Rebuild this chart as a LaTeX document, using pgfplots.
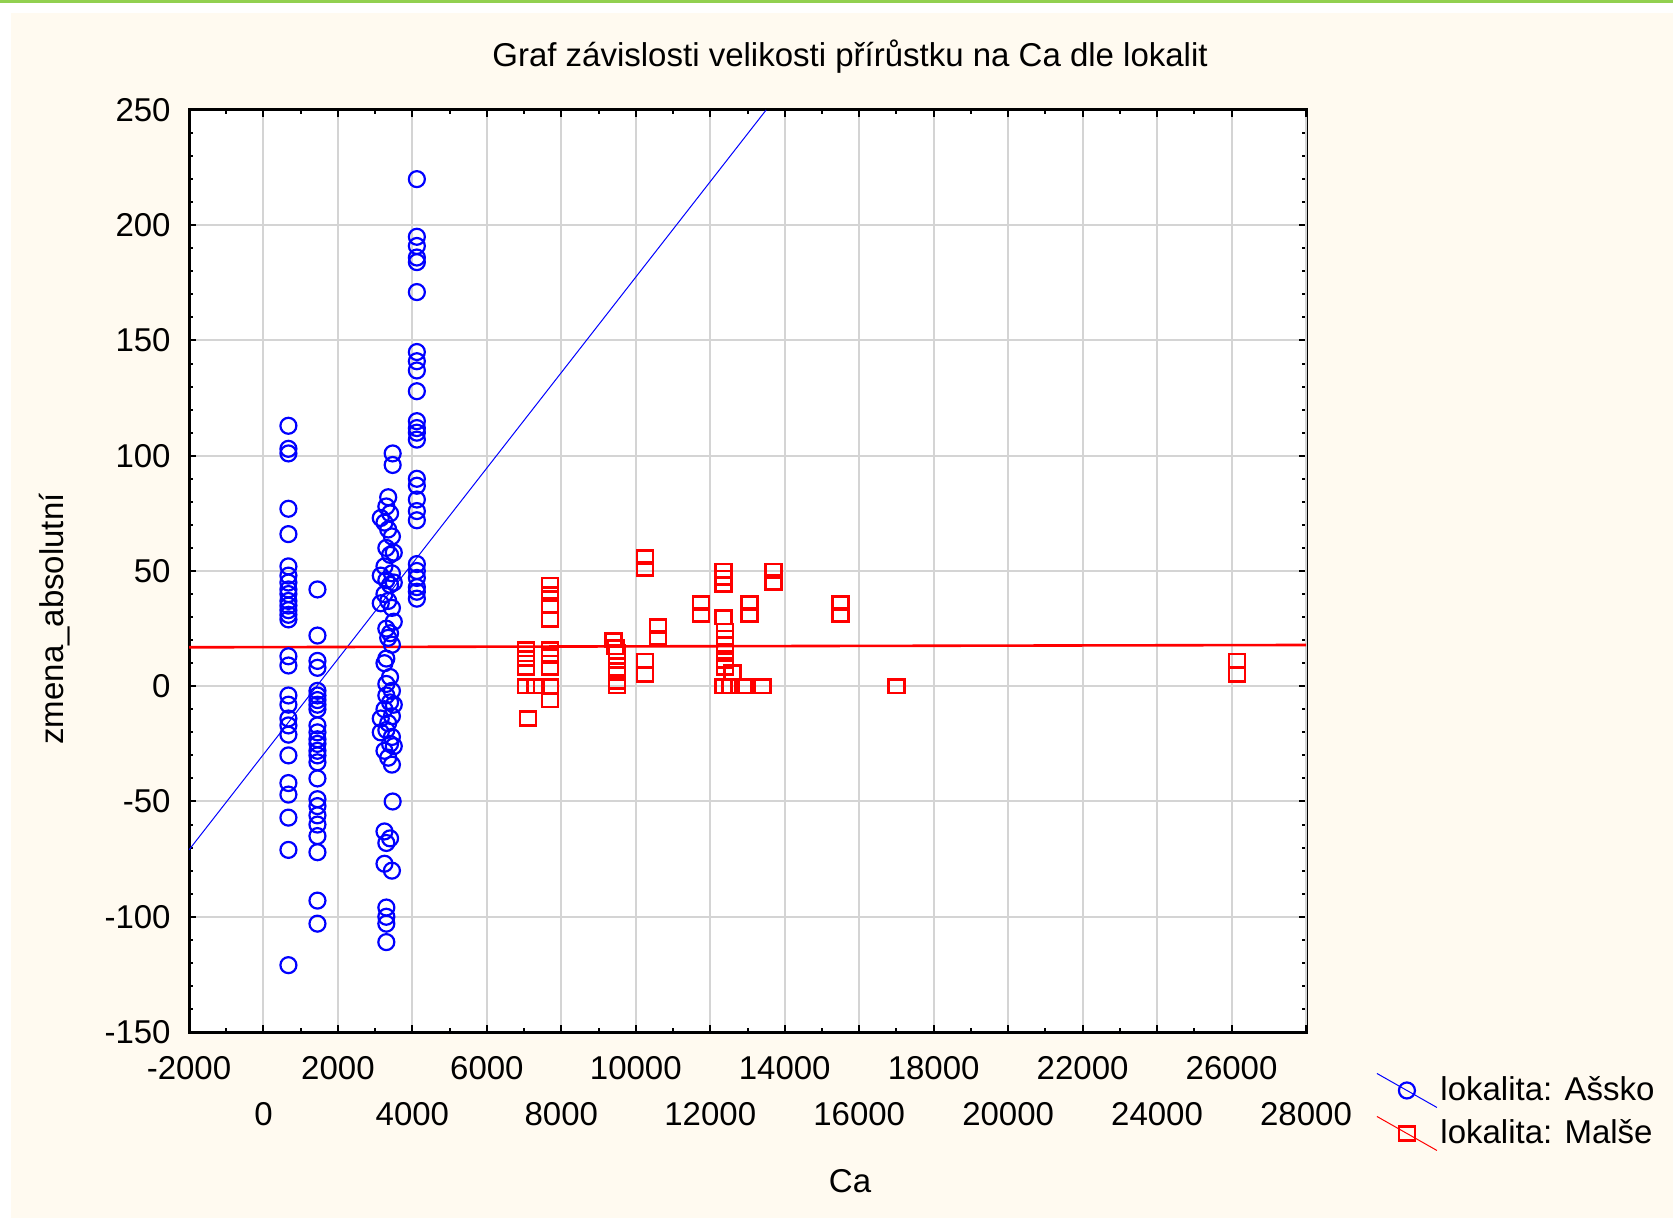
\documentclass[border=0pt]{standalone}
\usepackage{fontspec}
\setmainfont{Liberation Sans}
\usepackage{pgfplots}
\pgfplotsset{compat=1.18}
\definecolor{cream}{RGB}{255,250,240}
\definecolor{topgreen}{RGB}{146,208,80}
\definecolor{gridgray}{RGB}{212,212,212}
\pgfplotsset{
  diag legend/.style={legend image code/.code={
    \draw[#1, line width=0.5bp] (0bp,8.5bp) -- (30bp,-8.5bp);
    \draw[##1] plot coordinates {(15bp,0bp)};}},
}

\begin{document}
\fontsize{16.5bp}{19.8bp}\selectfont
\begin{tikzpicture}
\useasboundingbox (0,0) rectangle (836.5bp,609bp);
\fill[white] (0,0) rectangle (836.5bp,609bp);
\fill[cream] (5.5bp,0) rectangle (836.5bp,602.5bp);
\fill[topgreen] (0,607.5bp) rectangle (836.5bp,609bp);
\begin{axis}[
  at={(94.5bp,93bp)}, anchor=south west,
  scale only axis, width=558.5bp, height=461bp,
  xmin=-2000, xmax=28000, ymin=-150, ymax=250,
  axis background/.style={fill=white},
  xtick={-2000,2000,...,26000},
  extra x ticks={0,4000,...,28000},
  extra x tick style={grid=major, xticklabel style={yshift=-23bp}},
  minor x tick num=3,
  ytick={-150,-100,...,250},
  minor y tick num=4,
  scaled ticks=false,
  /pgf/number format/assume math mode=true,
  /pgf/number format/1000 sep={},
  /pgf/number format/fixed,
  tick align=inside, tick pos=both,
  xticklabel pos=lower, yticklabel pos=left,
  major tick length=3.5bp, minor tick length=2bp,
  every tick/.style={black, line width=1bp},
  axis line style={line width=1.5bp},
  grid=major,
  major grid style={draw=gridgray, line width=1bp},
  tick label style={inner sep=0pt},
  xticklabel style={anchor=north, yshift=-12bp},
  yticklabel style={anchor=east, xshift=-9bp},
  title={Graf závislosti velikosti přírůstku na Ca dle lokalit},
  title style={at={(axis description cs:0.5918,1.045)}, anchor=center, inner sep=0pt},
  xlabel={Ca},
  xlabel style={at={(axis description cs:0.5918,-0.1616)}, anchor=center, inner sep=0pt},
  ylabel={zmena\_absolutní},
  ylabel style={at={(axis description cs:-0.12,0.448)}, anchor=center, inner sep=0pt},
  legend style={at={(axis description cs:1.0627,-0.044)}, anchor=north west,
    draw=none, fill=none, inner sep=0pt, row sep=4bp,
    nodes={inner sep=1.5bp}},
  legend cell align=left,
]
% lokalita: Asko
\addplot[only marks, blue, mark=o, mark size=4bp, mark options={line width=1.1bp},
  diag legend=blue]
coordinates {
(670,113) (670,103) (670,101) (670,77) (670,66) (670,52) (670,48) (670,45)
(670,42) (670,40) (670,37) (670,35) (670,33) (670,31) (670,29) (670,13)
(670,9) (670,-4) (670,-8) (670,-14) (670,-17) (670,-21) (670,-30) (670,-42)
(670,-47) (670,-57) (670,-71) (670,-121)
(1450,42) (1450,22) (1450,11) (1450,8) (1450,-2) (1450,-4) (1450,-6) (1450,-8)
(1450,-10) (1450,-17) (1450,-20) (1450,-23) (1450,-25) (1450,-28) (1450,-30)
(1450,-33) (1450,-40) (1450,-49) (1450,-52) (1450,-56) (1450,-60) (1450,-65)
(1450,-72) (1450,-93) (1450,-103)
(3470,101) (3470,96) (3350,82) (3300,78) (3400,75) (3250,71) (3350,68) (3450,65)
(3300,60) (3400,57) (3250,52) (3450,49) (3300,46) (3400,44) (3250,40) (3350,37)
(3450,34) (3300,25) (3400,23) (3350,21) (3450,18) (3300,12) (3250,10) (3400,4)
(3300,1) (3450,-2) (3300,-4) (3400,-7) (3250,-10) (3450,-13) (3350,-16) (3300,-19)
(3450,-22) (3400,-25) (3250,-28) (3350,-31) (3450,-34) (3470,-50) (3250,-63)
(3400,-66) (3300,-68) (3250,-77) (3450,-80) (3300,-96) (3300,-100) (3300,-103)
(3300,-111)
(3150,73) (3500,58) (3150,48) (3500,45) (3150,36) (3500,28) (3150,-20) (3500,-26)
(3150,-14) (3500,-8)
(4120,220) (4120,195) (4120,191) (4120,186) (4120,184) (4120,171) (4120,145)
(4120,141) (4120,137) (4120,128) (4120,115) (4120,112) (4120,110) (4120,107)
(4120,90) (4120,87) (4120,81) (4120,76) (4120,72) (4120,53) (4120,50) (4120,47)
(4120,43) (4120,41) (4120,38)
};
\addlegendentry{lokalita: Ašsko}
% lokalita: Malse
\addplot[only marks, red, mark=square, mark size=4bp,
  mark options={line width=1.3bp, yscale=0.85},
  diag legend=red]
coordinates {
(7050,16) (7050,12) (7050,8) (7050,0) (7300,0) (7100,-14)
(7700,44) (7700,40) (7700,35) (7700,29) (7700,16) (7700,13) (7700,8) (7700,0) (7700,-6)
(9400,20) (9450,17) (9500,15) (9500,11) (9500,7) (9500,2) (9500,0)
(10250,56) (10250,51) (10250,11) (10250,5)
(10600,26) (10600,21)
(11750,36) (11750,31)
(12350,50) (12350,47) (12350,44) (12350,30) (12400,24) (12400,21) (12400,18)
(12400,15) (12400,11) (12400,8) (12350,0) (12600,6) (12550,0) (12900,0) (13400,0)
(13050,36) (13050,31)
(13700,50) (13700,45)
(15500,36) (15500,31)
(17000,0)
(26150,11) (26150,5)
};
\addlegendentry{lokalita: Malše}
% regression lines
\addplot[blue, line width=0.5bp, forget plot] coordinates {(-2000,-71) (13500,250)};
\addplot[red, line width=1.3bp, forget plot] coordinates {(-2000,16.9) (28000,17.9)};
\end{axis}
\end{tikzpicture}
\end{document}
